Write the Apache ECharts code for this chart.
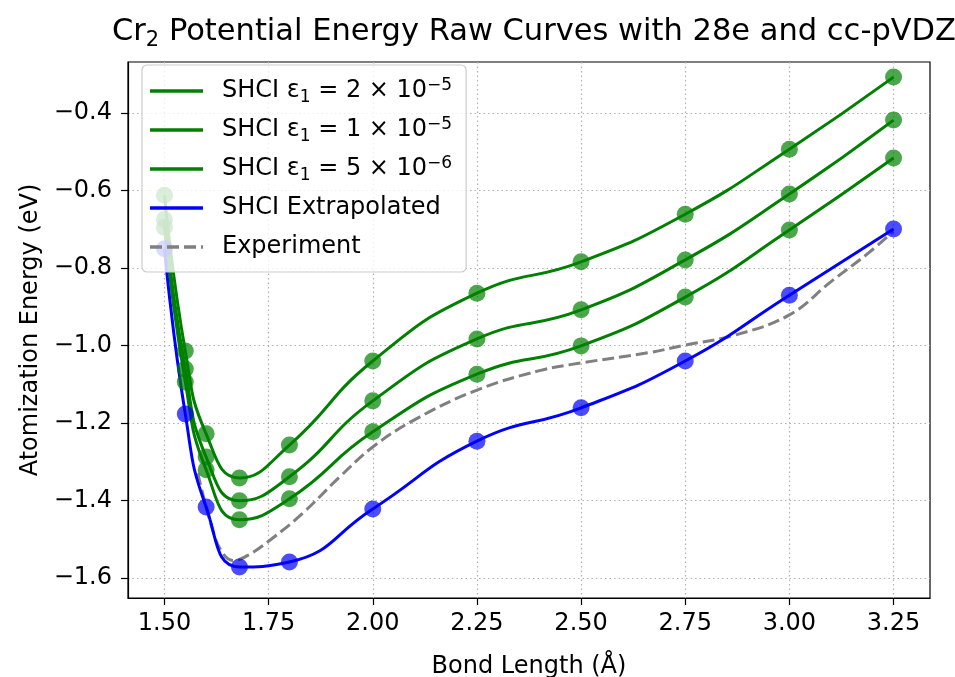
<!DOCTYPE html>
<html><head><meta charset="utf-8">
<script src="https://cdn.jsdelivr.net/npm/echarts@6/dist/echarts.min.js"></script>
<style>html,body{margin:0;padding:0;background:#fff}#c{width:955px;height:677px}</style>
</head><body><div id="c"></div>
<script>
// ---- data ----
const bondLengths = [1.50, 1.55, 1.60, 1.68, 1.80, 2.00, 2.25, 2.50, 2.75, 3.00, 3.25];
const shciEps2e5 = [-0.612, -1.014, -1.228, -1.342, -1.257, -1.040, -0.865, -0.784, -0.661, -0.493, -0.307];
const shciEps1e5 = [-0.675, -1.061, -1.288, -1.401, -1.339, -1.143, -0.983, -0.908, -0.779, -0.609, -0.418];
const shciEps5e6 = [-0.695, -1.094, -1.321, -1.450, -1.396, -1.223, -1.074, -1.001, -0.875, -0.702, -0.516];
const shciExtrap = [-0.750, -1.177, -1.417, -1.572, -1.559, -1.422, -1.247, -1.161, -1.040, -0.870, -0.699];
const expBond   = [1.58, 1.61, 1.635, 1.665, 1.70, 1.76, 1.83, 1.92, 2.00, 2.10, 2.25, 2.40, 2.50, 2.66, 2.75, 2.87, 3.00, 3.10, 3.19, 3.25];
const expEnergy = [-1.330, -1.455, -1.528, -1.555, -1.542, -1.497, -1.435, -1.340, -1.262, -1.192, -1.115, -1.065, -1.045, -1.019, -0.999, -0.973, -0.921, -0.835, -0.761, -0.705];
const xTicks = [1.50, 1.75, 2.00, 2.25, 2.50, 2.75, 3.00, 3.25];
const yTicks = [-1.6, -1.4, -1.2, -1.0, -0.8, -0.6, -0.4];
const legendLabels = {
  eps2e5: '{g|}{n|SHCI ε}{sub|1}{n| = 2 × 10}{sup|−5}',
  eps1e5: '{g|}{n|SHCI ε}{sub|1}{n| = 1 × 10}{sup|−5}',
  eps5e6: '{g|}{n|SHCI ε}{sub|1}{n| = 5 × 10}{sup|−6}',
  extrap: '{g|}{n|SHCI Extrapolated}',
  exp: '{g|}{n|Experiment}'
};

const FONT = 'DejaVu Sans';
const FS = 24;
const pairs = (xs, ys) => xs.map((x, i) => [x, ys[i]]);
const minus = s => s.replace('-', '\u2212');

const solidIcon = 'path://M0,0H53V3.5H0Z';
const dashIcon = 'path://M0,0H12V3.5H0Z M17,0H29V3.5H17Z M34,0H46V3.5H34Z M51,0H53V3.5H51Z';

function shciSeries(name, ys, color, mColor) {
  return {
    name: name, type: 'line', data: pairs(bondLengths, ys),
    smooth: 0.5, symbol: 'circle', symbolSize: 17, showSymbol: true,
    lineStyle: { color: color, width: 3 },
    itemStyle: { color: mColor, borderWidth: 0 },
    emphasis: { disabled: true }
  };
}

const chart = echarts.init(document.getElementById('c'));
chart.setOption({
  backgroundColor: '#fff',
  animation: false,
  title: {
    text: 'Cr{sub|2}{t| Potential Energy Raw Curves with 28e and cc-pVDZ}',
    left: 529, textAlign: 'center', top: 8,
    textStyle: {
      fontFamily: FONT, fontSize: 30.5, fontWeight: 'normal', color: '#000',
      rich: {
        t: { fontFamily: FONT, fontSize: 30.5, color: '#000', lineHeight: 38 },
        sub: { fontFamily: FONT, fontSize: 21, color: '#000', lineHeight: 21, verticalAlign: 'bottom' }
      }
    }
  },
  grid: { left: 128, right: 25, top: 62, bottom: 79, outerBoundsMode: 'none', containLabel: false, show: true, borderColor: '#000', borderWidth: 1.2, backgroundColor: 'transparent' },
  legend: {
    orient: 'vertical', left: 142, top: 65,
    padding: [9, 14, 8, 8],
    itemWidth: 53, itemHeight: 3.5, itemGap: 5,
    backgroundColor: 'rgba(255,255,255,0.8)', borderColor: '#cccccc', borderWidth: 1.2, borderRadius: 5,
    data: [
      { name: 'eps2e5', icon: solidIcon, itemStyle: { color: '#008000' } },
      { name: 'eps1e5', icon: solidIcon, itemStyle: { color: '#008000' } },
      { name: 'eps5e6', icon: solidIcon, itemStyle: { color: '#008000' } },
      { name: 'extrap', icon: solidIcon, itemStyle: { color: '#0000ff' } },
      { name: 'exp', icon: dashIcon, itemStyle: { color: '#808080' } }
    ],
    formatter: name => legendLabels[name],
    textStyle: {
      fontFamily: FONT, fontSize: FS, color: '#000', lineHeight: 34,
      rich: {
        g: { width: 14, lineHeight: 34 },
        n: { fontFamily: FONT, fontSize: FS, color: '#000', lineHeight: 34 },
        sub: { fontFamily: FONT, fontSize: 17, color: '#000', lineHeight: 17, verticalAlign: 'bottom', padding: [0, 0, 2, 0] },
        sup: { fontFamily: FONT, fontSize: 17, color: '#000', lineHeight: 17, verticalAlign: 'top', padding: [3, 0, 0, 0] }
      }
    },
    selectedMode: false
  },
  xAxis: {
    type: 'value', min: 1.4125, max: 3.3375,
    name: 'Bond Length (Å)', nameLocation: 'middle', nameGap: 57,
    nameTextStyle: { fontFamily: FONT, fontSize: FS, color: '#000' },
    axisLine: { show: true, onZero: false, lineStyle: { color: '#000', width: 1.2 } },
    axisTick: { show: true, length: 7, lineStyle: { color: '#000', width: 1.2 }, customValues: xTicks },
    axisLabel: { customValues: xTicks, formatter: v => v.toFixed(2), fontFamily: FONT, fontSize: FS, color: '#000', margin: 14 },
    splitLine: { show: true, lineStyle: { color: '#b0b0b0', width: 1.2, type: [1.5, 3] } }
  },
  yAxis: {
    type: 'value', min: -1.652, max: -0.268,
    name: 'Atomization Energy (eV)', nameLocation: 'middle', nameGap: 82,
    nameTextStyle: { fontFamily: FONT, fontSize: FS, color: '#000' },
    axisLine: { show: true, onZero: false, lineStyle: { color: '#000', width: 1.2 } },
    axisTick: { show: true, length: 7, lineStyle: { color: '#000', width: 1.2 }, customValues: yTicks },
    axisLabel: { customValues: yTicks, formatter: v => minus(v.toFixed(1)), fontFamily: FONT, fontSize: FS, color: '#000', margin: 16 },
    splitLine: { show: true, lineStyle: { color: '#b0b0b0', width: 1.2, type: [1.5, 3] } }
  },
  series: [
    shciSeries('eps2e5', shciEps2e5, '#008000', 'rgba(0,128,0,0.7)'),
    shciSeries('eps1e5', shciEps1e5, '#008000', 'rgba(0,128,0,0.7)'),
    shciSeries('eps5e6', shciEps5e6, '#008000', 'rgba(0,128,0,0.7)'),
    shciSeries('extrap', shciExtrap, '#0000ff', 'rgba(0,0,255,0.7)'),
    {
      name: 'exp', type: 'line', data: pairs(expBond, expEnergy),
      smooth: 0.4, showSymbol: false, symbol: 'none',
      lineStyle: { color: '#808080', width: 3, type: [12, 5] },
      itemStyle: { color: '#808080' },
      emphasis: { disabled: true }, z: 1
    }
  ]
});
</script>
</body></html>
